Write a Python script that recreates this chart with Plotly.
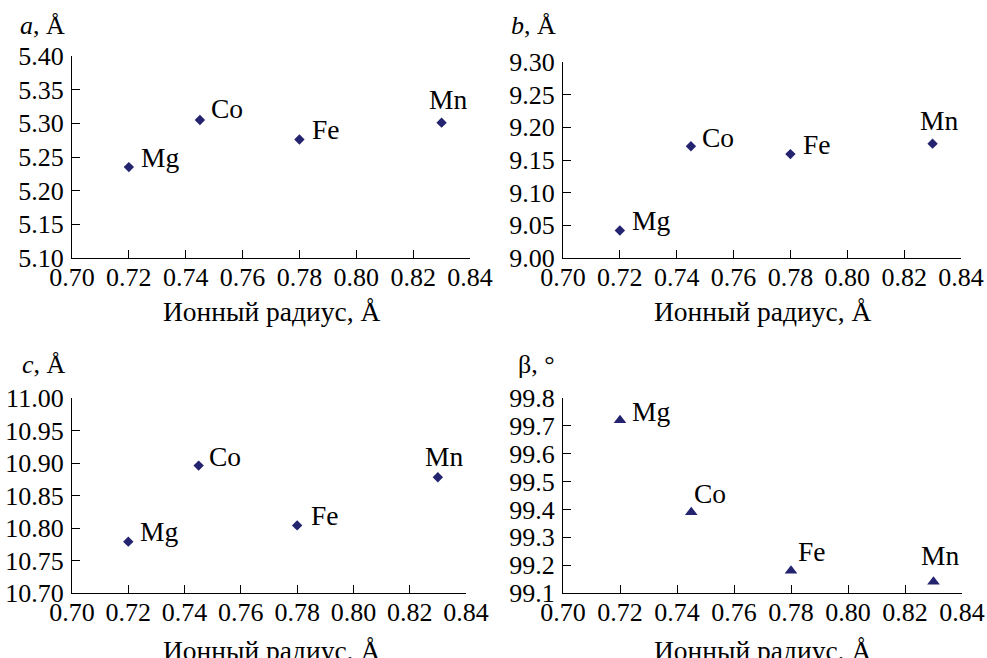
import plotly.graph_objects as go

elements = ["Mg", "Co", "Fe", "Mn"]
radius = [0.72, 0.745, 0.78, 0.83]
a_vals = [5.235, 5.305, 5.276, 5.301]
b_vals = [9.042, 9.171, 9.159, 9.175]
c_vals = [10.779, 10.896, 10.804, 10.878]
beta_vals = [99.72, 99.39, 99.18, 99.14]

x_ticks = [0.70, 0.72, 0.74, 0.76, 0.78, 0.80, 0.82, 0.84]
a_ticks = [5.10, 5.15, 5.20, 5.25, 5.30, 5.35, 5.40]
b_ticks = [9.00, 9.05, 9.10, 9.15, 9.20, 9.25, 9.30]
c_ticks = [10.70, 10.75, 10.80, 10.85, 10.90, 10.95, 11.00]
beta_ticks = [99.1, 99.2, 99.3, 99.4, 99.5, 99.6, 99.7, 99.8]

x_title = "Ионный радиус, Å"
y_titles = ["<i>a</i>, Å", "<i>b</i>, Å", "<i>c</i>, Å", "β, °"]

W, H = 987, 658
FONT = "Liberation Serif"
COLOR = "#23236f"
FS_TICK = 26
FS_TEXT = 27.5

# panel pixel boxes: left, right, top, bottom
boxes = [
    (72, 470, 56, 258),
    (563, 961, 62, 258),
    (72, 466, 398, 593),
    (563, 962, 398, 593),
]
series = [a_vals, b_vals, c_vals, beta_vals]
yticks = [a_ticks, b_ticks, c_ticks, beta_ticks]
yfmt = [".2f", ".2f", ".2f", ".1f"]
symbols = ["diamond", "diamond", "diamond", "triangle-up"]
sizes = [8, 8, 8, 11]
# label offsets (xshift, yshift, xanchor) per panel per element
label_off = [
    [(10, 10, "left"), (9, 11, "left"), (11, 10, "left"), (6, 23, "center")],
    [(10, 10, "left"), (9, 9, "left"), (11, 10, "left"), (6, 23, "center")],
    [(10, 10, "left"), (8, 9, "left"), (12, 10, "left"), (6, 21, "center")],
    [(10, 9, "left"), (1, 19, "left"), (5, 19, "left"), (6, 26, "center")],
]
ytitle_pos = [(18, 26), (509, 26), (20, 364), (516, 364)]
xtitle_pos = [(271, 311), (762, 311), (271, 650), (762, 650)]

fig = go.Figure()
annotations = []
layout = {}
for i in range(4):
    L, R, T, B = boxes[i]
    xa = "xaxis" if i == 0 else f"xaxis{i+1}"
    ya = "yaxis" if i == 0 else f"yaxis{i+1}"
    xr = "x" if i == 0 else f"x{i+1}"
    yr = "y" if i == 0 else f"y{i+1}"
    fig.add_trace(go.Scatter(
        x=radius, y=series[i], mode="markers", xaxis=xr, yaxis=yr,
        marker=dict(symbol=symbols[i], size=sizes[i], color=COLOR,
                    line=dict(width=0)),
        showlegend=False, hoverinfo="x+y"))
    axis_common = dict(showgrid=False, zeroline=False, showline=True,
                       linecolor="black", linewidth=1.3, ticks="inside",
                       ticklen=8, tickwidth=1.3, tickcolor="black",
                       automargin=False,
                       tickfont=dict(family=FONT, size=FS_TICK, color="black"))
    layout[xa] = dict(axis_common, domain=[L / W, R / W], anchor=yr,
                      range=[0.70, 0.84], tickvals=x_ticks,
                      ticklabelstandoff=-4,
                      ticktext=[f"{v:.2f}" for v in x_ticks])
    yt = yticks[i]
    layout[ya] = dict(axis_common, domain=[1 - B / H, 1 - T / H], anchor=xr,
                      range=[yt[0], yt[-1]], tickvals=yt,
                      ticklabelstandoff=2,
                      ticktext=[format(v, yfmt[i]) for v in yt])
    for j, el in enumerate(elements):
        xs, ys, xanc = label_off[i][j]
        annotations.append(dict(x=radius[j], y=series[i][j], xref=xr, yref=yr,
                                text=el, showarrow=False, xanchor=xanc,
                                yanchor="middle", xshift=xs, yshift=ys,
                                font=dict(family=FONT, size=FS_TEXT, color="black")))
    tx, ty = ytitle_pos[i]
    annotations.append(dict(x=tx / W, y=1 - ty / H, xref="paper", yref="paper",
                            text=y_titles[i], showarrow=False, xanchor="left",
                            yanchor="middle",
                            font=dict(family=FONT, size=FS_TICK, color="black")))
    tx, ty = xtitle_pos[i]
    annotations.append(dict(x=tx / W, y=1 - ty / H, xref="paper", yref="paper",
                            text=x_title, showarrow=False, xanchor="center",
                            yanchor="middle",
                            font=dict(family=FONT, size=FS_TEXT, color="black")))

fig.update_layout(**layout)
fig.update_layout(width=W, height=H, margin=dict(l=0, r=0, t=0, b=0),
                  paper_bgcolor="white", plot_bgcolor="white",
                  annotations=annotations, font=dict(family=FONT))
fig.write_html("out.html", config={"displayModeBar": False},
               post_script="document.body.style.margin='0';"
                           "document.body.style.overflow='hidden';")
